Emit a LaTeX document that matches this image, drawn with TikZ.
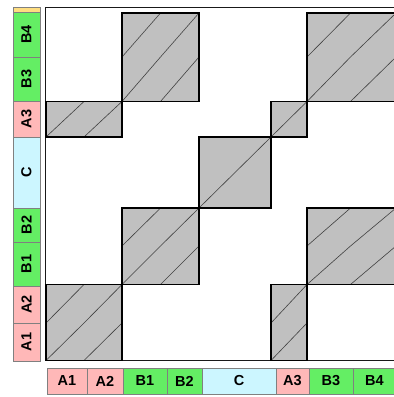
\documentclass[tikz,border=0pt]{standalone}
\usepackage{fontspec}
\setmainfont{Liberation Sans}
\definecolor{pk}{RGB}{255,184,184}
\definecolor{gn}{RGB}{100,238,100}
\definecolor{bl}{RGB}{204,246,255}
\definecolor{yl}{RGB}{255,222,128}
\definecolor{blk}{RGB}{192,192,192}
\def\XS{{46,84,122,160.5,199,271,307,350.5,396}}
\def\YS{{360.5,323,284.5,246,208,137,101.5,57,13}}
\newcommand\mblock[4]{%
  \pgfmathsetmacro\xa{\XS[#1]}\pgfmathsetmacro\xb{\XS[#2+1]}%
  \pgfmathsetmacro\ya{\YS[#3]}\pgfmathsetmacro\yb{\YS[#4+1]}%
  \fill[blk] (\xa,\ya) rectangle (\xb,\yb);
  \foreach \c in {#1,...,#2}{\foreach \r in {#3,...,#4}{%
    \pgfmathsetmacro\pa{\XS[\c]}\pgfmathsetmacro\pb{\XS[\c+1]}%
    \pgfmathsetmacro\qa{\YS[\r]}\pgfmathsetmacro\qb{\YS[\r+1]}%
    \draw[hatch] (\pa,\qa) -- (\pb,\qb);}}
  \draw[blockedge] (\xa,\ya) rectangle (\xb,\yb);}
\begin{document}
\begin{tikzpicture}[x=1pt,y=-1pt,
  font=\fontsize{14.5}{14.5}\selectfont\bfseries,
  seg/.style={draw=black!50, line width=0.7pt, inner sep=0pt, outer sep=0pt, rectangle},
  hatch/.style={draw=black!75, line width=0.6pt},
  blockedge/.style={draw=black, line width=1.8pt},
  frame/.style={draw=black!90, line width=1.7pt}]
\useasboundingbox (0,0) rectangle (394,397);
\fill[white] (0,0) rectangle (394,397);
% left bar
\foreach \n/\a/\b/\c/\t in {Ly/7/12/yl/{}, LB4/12/57/gn/B4, LB3/57/101/gn/B3, LA3/101/137/pk/A3,
  LC/137/208/bl/C, LB2/208/242/gn/B2, LB1/242/286/gn/B1, LA2/286/323/pk/A2, LA1/323/361/pk/A1}
  \node[seg, fill=\c, rotate=90, minimum width={\b-\a}, minimum height=27] (\n) at (26.5,{(\a+\b)/2}) {\t};
% bottom bar
\foreach \n/\a/\b/\c/\t in {BA1/47/87/pk/A1, BA2/87/123/pk/A2, BB1/123/167/gn/B1, BB2/167/202/gn/B2,
  BC/202/276/bl/C, BA3/276/309/pk/A3, BB3/309/353/gn/B3, BB4/353/396/gn/B4}
  \node[seg, fill=\c, minimum width={\b-\a}, minimum height=26] (\n) at ({(\a+\b)/2},381) {\t};
% frame
\draw[frame] (396,7.5) -- (45.5,7.5) -- (45.5,360.5) -- (396,360.5);
% blocks
\mblock{0}{1}{0}{1}
\mblock{5}{5}{0}{1}
\mblock{2}{3}{2}{3}
\mblock{6}{7}{2}{3}
\mblock{4}{4}{4}{4}
\mblock{0}{1}{5}{5}
\mblock{5}{5}{5}{5}
\mblock{2}{3}{6}{7}
\mblock{6}{7}{6}{7}
\end{tikzpicture}
\end{document}
